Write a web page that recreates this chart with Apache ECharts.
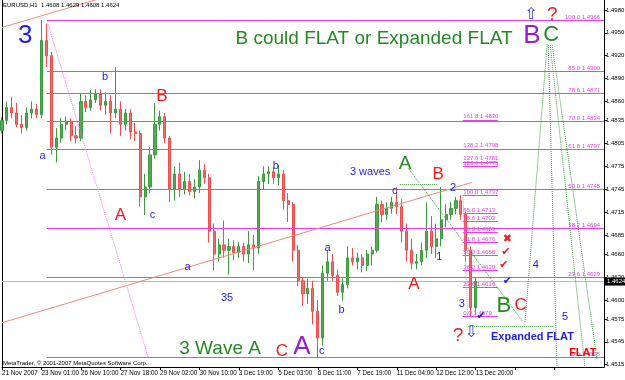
<!DOCTYPE html>
<html><head><meta charset="utf-8">
<script src="https://cdn.jsdelivr.net/npm/echarts@6/dist/echarts.min.js"></script>
<style>html,body{margin:0;padding:0;background:#fff}#c{width:625px;height:380px}</style>
</head><body><div id="c"></div>
<script>
// ---- DATA (4-hour aggregated EURUSD candles) ----
// each row: [open, close, low, high]
const candles = [
[1.4822,1.4835,1.4818,1.4840],[1.4835,1.4852,1.4830,1.4860],[1.4852,1.4845,1.4838,1.4866],[1.4845,1.4830,1.4826,1.4858],
[1.4830,1.4826,1.4818,1.4842],[1.4826,1.4845,1.4822,1.4852],[1.4845,1.4850,1.4838,1.4860],[1.4850,1.4843,1.4838,1.4857],
[1.4843,1.4940,1.4838,1.4967],[1.4940,1.4920,1.4905,1.4962],[1.4920,1.4800,1.4790,1.4925],[1.4800,1.4812,1.4780,1.4825],
[1.4812,1.4830,1.4806,1.4838],[1.4830,1.4834,1.4822,1.4840],[1.4834,1.4815,1.4808,1.4838],[1.4815,1.4812,1.4805,1.4828],
[1.4812,1.4860,1.4808,1.4870],[1.4860,1.4852,1.4846,1.4868],[1.4852,1.4862,1.4848,1.4875],[1.4862,1.4870,1.4858,1.4876],
[1.4870,1.4855,1.4848,1.4876],[1.4855,1.4860,1.4843,1.4872],[1.4860,1.4845,1.4818,1.4868],[1.4845,1.4850,1.4838,1.4905],
[1.4850,1.4830,1.4815,1.4860],[1.4830,1.4845,1.4822,1.4850],[1.4845,1.4820,1.4810,1.4850],[1.4820,1.4818,1.4808,1.4832],
[1.4818,1.4735,1.4722,1.4822],[1.4735,1.4748,1.4711,1.4765],[1.4748,1.4790,1.4740,1.4800],[1.4790,1.4830,1.4785,1.4858],
[1.4830,1.4840,1.4822,1.4848],[1.4840,1.4812,1.4805,1.4845],[1.4812,1.4745,1.4728,1.4815],[1.4745,1.4765,1.4730,1.4775],
[1.4765,1.4745,1.4735,1.4780],[1.4745,1.4755,1.4738,1.4768],[1.4755,1.4742,1.4737,1.4765],[1.4742,1.4748,1.4733,1.4758],
[1.4748,1.4770,1.4740,1.4783],[1.4770,1.4760,1.4752,1.4778],[1.4760,1.4690,1.4675,1.4765],[1.4690,1.4660,1.4639,1.4700],
[1.4660,1.4672,1.4650,1.4680],[1.4672,1.4665,1.4655,1.4704],[1.4665,1.4670,1.4633,1.4680],[1.4670,1.4662,1.4652,1.4678],
[1.4662,1.4670,1.4655,1.4676],[1.4670,1.4660,1.4650,1.4675],[1.4660,1.4672,1.4648,1.4690],[1.4672,1.4668,1.4639,1.4685],
[1.4668,1.4755,1.4660,1.4762],[1.4755,1.4765,1.4745,1.4775],[1.4765,1.4768,1.4752,1.4775],[1.4768,1.4760,1.4752,1.4774],
[1.4760,1.4765,1.4750,1.4777],[1.4765,1.4730,1.4718,1.4770],[1.4730,1.4725,1.4702,1.4740],[1.4725,1.4665,1.4650,1.4728],
[1.4665,1.4625,1.4618,1.4672],[1.4625,1.4608,1.4592,1.4630],[1.4608,1.4615,1.4595,1.4628],[1.4615,1.4585,1.4568,1.4625],
[1.4585,1.4550,1.4525,1.4600],[1.4550,1.4635,1.4540,1.4645],[1.4635,1.4650,1.4625,1.4665],[1.4650,1.4632,1.4625,1.4660],
[1.4632,1.4610,1.4605,1.4640],[1.4610,1.4620,1.4599,1.4628],[1.4620,1.4655,1.4615,1.4670],[1.4655,1.4650,1.4645,1.4668],
[1.4650,1.4655,1.4640,1.4662],[1.4655,1.4645,1.4636,1.4660],[1.4645,1.4660,1.4638,1.4665],[1.4660,1.4665,1.4645,1.4670],
[1.4665,1.4725,1.4662,1.4735],[1.4725,1.4712,1.4702,1.4730],[1.4712,1.4720,1.4705,1.4728],[1.4720,1.4728,1.4713,1.4735],
[1.4728,1.4722,1.4712,1.4748],[1.4722,1.4690,1.4675,1.4732],[1.4690,1.4665,1.4650,1.4700],[1.4665,1.4648,1.4640,1.4680],
[1.4648,1.4650,1.4640,1.4660],[1.4650,1.4665,1.4645,1.4675],[1.4665,1.4690,1.4655,1.4728],[1.4690,1.4670,1.4660,1.4710],
[1.4670,1.4680,1.4655,1.4700],[1.4680,1.4705,1.4670,1.4748],[1.4705,1.4712,1.4695,1.4725],[1.4712,1.4720,1.4705,1.4728],
[1.4720,1.4730,1.4712,1.4735],[1.4730,1.4712,1.4705,1.4737],[1.4712,1.4665,1.4650,1.4715],[1.4665,1.4590,1.4579,1.4670],
[1.4590,1.4624,1.4582,1.4629]
];
const lastQuote = [1.4608, 1.4629, 1.4608, 1.4624]; // O H L C of the H1 bar in the header
const slotCount = 123; // bar slots incl. empty right-hand shift
const timeLabels = ['21 Nov 2007','23 Nov 01:00','26 Nov 10:00','27 Nov 18:00','29 Nov 02:00','30 Nov 10:00',
  '3 Dec 19:00','5 Dec 03:00','6 Dec 11:00','7 Dec 19:00','11 Dec 04:00','12 Dec 12:00','13 Dec 20:00'];
const priceTicks = [1.4980,1.4950,1.4920,1.4890,1.4860,1.4835,1.4805,1.4775,1.4745,1.4715,1.4685,1.4660,1.4630,1.4600,1.4575,1.4545,1.4515];

// Fibonacci set 1 (long lines, labels at right)
const fibMain = [[1.4966,'100.0 1.4966'],[1.4900,'85.0 1.4900'],[1.4871,'78.6 1.4871'],[1.4834,'70.0 1.4834'],
  [1.4797,'61.8 1.4797'],[1.4745,'50.0 1.4745'],[1.4694,'38.2 1.4694'],[1.4629,'23.6 1.4629'],[1.4525,'0.0 1.4525']];
const fibMainSpan = [9.12, 122];
const fibMainLabelAt = 121.2;
const fibMainTrend = [[9.12, 1.4966, 29.6, 1.4525]];
// Fibonacci set 2 (short lines, labels at left)
const fibSecond = [[1.4836,'161.8 1.4836'],[1.4798,'138.2 1.4798'],[1.4781,'127.6 1.4781'],[1.4775,'123.6 1.4775'],
  [1.4737,'100.0 1.4737'],[1.4713,'85.0 1.4713'],[1.4703,'78.6 1.4703'],[1.4689,'70.0 1.4689'],[1.4676,'61.8 1.4676'],
  [1.4658,'50.0 1.4658'],[1.4639,'38.2 1.4639'],[1.4616,'23.6 1.4616'],[1.4579,'0.0 1.4579']];
const fibSecondSpan = [93.4, 100.5];
const fibSecondTrend = [[93.4, 1.4737, 94.4, 1.4579]];
// trend channel (salmon)
const channelLines = [[0, 1.4570, 95.3, 1.4754],[0, 1.4957, 22, 1.4999]];
// projected wave path (green dotted)
const projectionLines = [[82.3,1.4773,105.6,1.4571],[94.4,1.4566,111.7,1.4566],[106.0,1.4571,110.5,1.4937],
  [111.5,1.4934,120.6,1.4521],[111.1,1.4934,118.2,1.4508],[110.7,1.4934,112.5,1.4505],[80.7,1.4751,88.4,1.4751]];

// wave labels [barIndex, price, text]
const blueSmall = [[20.9,1.4892,'b'],[8.2,1.4789,'a'],[30.5,1.4711,'c'],[37.6,1.4643,'a'],[45.6,1.4602,'35'],
  [55.5,1.4776,'b'],[66.0,1.4668,'a'],[68.8,1.4587,'b'],[64.8,1.4533,'c'],[79.6,1.4743,'c'],[74.6,1.4768,'3 waves'],
  [88.6,1.4656,'1'],[91.4,1.4747,'2'],[93.2,1.4595,'3'],[108.2,1.4646,'4'],[114.1,1.4578,'5']];
const blueBig = [[4.7,1.4946,'3']];
const redMid = [[32.4,1.4867,'B'],[24.0,1.4711,'A'],[88.4,1.4765,'B'],[83.5,1.4621,'A'],[105.1,1.4593,'C'],[56.7,1.4532,'C']];
const greenText = [[75.4,1.4942,'B could FLAT or Expanded FLAT'],[44.2,1.4536,'3 Wave A'],[81.7,1.4778,'A']];
const greenBig = [[111.3,1.4947,'C'],[101.7,1.4592,'B']];
const purpleBig = [[107.4,1.4946,'B'],[60.8,1.4538,'A']];
const redQuestion = [[111.5,1.4973,'?'],[92.4,1.4553,'?']];
const blueBoldText = [[107.5,1.4552,'Expanded FLAT']];
const redBoldText = [[117.7,1.4531,'FLAT']];
const redMarks = [[102.4,1.4680,'✖'],[102.1,1.4663,'✔'],[101.7,1.4646,'✔']];
const blueMarks = [[102.4,1.4625,'✔'],[97.1,1.4579,'✔']];
const arrows = [[107.2,1.4974,'⇧'],[95.1,1.4557,'⇩']];

// ---- CHART ----
const FONT = '"Liberation Sans", Arial, sans-serif';
const cats = Array.from({length: slotCount}, (_, i) => String(i));
const lastClose = candles[candles.length - 1][1];

function textSeries(items, style, z) {
  return {
    type: 'scatter', xAxisIndex: 1, yAxisIndex: 0, symbolSize: 0, silent: true, clip: false, z: z || 10,
    itemStyle: { opacity: 1 },
    data: items.map(d => ({ value: [d[0], d[1]], label: { formatter: d[2] } })),
    label: Object.assign({ show: true, position: 'inside', align: 'center', verticalAlign: 'middle', fontFamily: FONT, opacity: 1 }, style)
  };
}
function segSeries(segs, lineStyle, z) {
  return {
    type: 'lines', coordinateSystem: 'cartesian2d', xAxisIndex: 1, yAxisIndex: 0, silent: true, clip: true, z: z || 6,
    lineStyle: Object.assign({ opacity: 1, curveness: 0 }, lineStyle),
    data: segs.map(s => ({ coords: [[s[0], s[1]], [s[2], s[3]]] }))
  };
}

const MAG = '#ea3fea';
const BLUE = '#1f1fe6', RED = '#f01c1c', GREEN = '#238a23', PURPLE = '#9420d0';
const series = [
  { type: 'candlestick', xAxisIndex: 0, yAxisIndex: 0, data: candles, barWidth: 2.6, z: 4,
    itemStyle: { color: '#55aa55', color0: '#f26c6c', borderColor: '#3b9a3b', borderColor0: '#ee4d4d', borderWidth: 1 } },
  segSeries([[0, lastClose, slotCount - 1, lastClose]], { color: '#b9b9b9', width: 1 }, 3),
  segSeries(fibMain.map(f => [fibMainSpan[0], f[0], fibMainSpan[1], f[0]]), { color: MAG, width: 1.2 }),
  segSeries(fibSecond.map(f => [fibSecondSpan[0], f[0], fibSecondSpan[1], f[0]]), { color: MAG, width: 1 }),
  segSeries(fibMainTrend.concat(fibSecondTrend), { color: '#ee77ee', width: 1, type: 'dotted' }),
  segSeries(channelLines, { color: '#f08a78', width: 1 }),
  segSeries(projectionLines, { color: '#3a9a3a', width: 1, type: 'dotted' }),
  textSeries(fibMain.map(f => [fibMainLabelAt, f[0], f[1]]), { color: MAG, fontSize: 6, align: 'right', verticalAlign: 'bottom' }),
  textSeries(fibSecond.map(f => [fibSecondSpan[0] + 0.1, f[0], f[1]]), { color: MAG, fontSize: 6, align: 'left', verticalAlign: 'bottom' }),
  textSeries(blueSmall, { color: BLUE, fontSize: 11 }),
  textSeries(blueBig, { color: BLUE, fontSize: 26 }),
  textSeries(redMid, { color: RED, fontSize: 17 }),
  textSeries(greenText, { color: GREEN, fontSize: 19 }),
  textSeries(greenBig, { color: GREEN, fontSize: 22 }),
  textSeries(purpleBig, { color: PURPLE, fontSize: 26 }),
  textSeries(redQuestion, { color: RED, fontSize: 19 }),
  textSeries(blueBoldText, { color: BLUE, fontSize: 11, fontWeight: 'bold' }),
  textSeries(redBoldText, { color: '#ff0000', fontSize: 11, fontWeight: 'bold' }),
  textSeries(redMarks, { color: RED, fontSize: 11, fontFamily: '"DejaVu Sans", sans-serif' }),
  textSeries(blueMarks, { color: BLUE, fontSize: 11, fontFamily: '"DejaVu Sans", sans-serif' }),
  textSeries(arrows, { color: '#3a3ae6', fontSize: 16, fontFamily: '"DejaVu Sans", sans-serif' }),
  { type: 'scatter', xAxisIndex: 1, yAxisIndex: 0, symbolSize: 0, silent: true, clip: false, z: 12,
    itemStyle: { opacity: 1 },
    data: [[slotCount - 1, lastClose]],
    label: { show: true, position: 'right', distance: 1, formatter: lastClose.toFixed(4), color: '#fff', opacity: 1,
      backgroundColor: '#000', fontSize: 6, fontFamily: FONT, padding: [1, 2, 1, 2] } }
];

const chart = echarts.init(document.getElementById('c'), null, { renderer: 'canvas' });
chart.setOption({
  animation: false,
  backgroundColor: '#fff',
  title: [
    { text: 'EURUSD,H1  ' + lastQuote.map(v => v.toFixed(4)).join(' '), left: 3, top: 2, padding: 0,
      textStyle: { fontSize: 6, fontWeight: 'normal', color: '#000', fontFamily: FONT } },
    { text: 'MetaTrader, © 2001-2007 MetaQuotes Software Corp.', left: 3, top: 360, padding: 0,
      textStyle: { fontSize: 6, fontWeight: 'normal', color: '#000', fontFamily: FONT } }
  ],
  grid: { left: 2, right: 21, top: 0, bottom: 13, containLabel: false, outerBoundsMode: 'none' },
  xAxis: [
    { type: 'category', data: cats, boundaryGap: false, gridIndex: 0,
      axisLine: { show: true, onZero: false, lineStyle: { color: '#000', width: 1 } },
      axisTick: { show: true, interval: 7, length: 3, lineStyle: { color: '#000' } },
      axisLabel: { interval: 7, align: 'left', margin: 3, fontSize: 6.3, color: '#000', fontFamily: FONT,
        showMinLabel: true, showMaxLabel: false, formatter: (v, i) => timeLabels[i / 8] || '' },
      splitLine: { show: false } },
    { type: 'value', min: 0, max: slotCount - 1, show: false, gridIndex: 0 }
  ],
  yAxis: [
    { type: 'value', position: 'right', min: 1.4512, max: 1.4993,
      axisLine: { show: true, onZero: false, lineStyle: { color: '#000' } },
      axisTick: { show: true, customValues: priceTicks, length: 3, lineStyle: { color: '#000' } },
      axisLabel: { customValues: priceTicks, formatter: v => v.toFixed(4), fontSize: 6, margin: 2, color: '#000', fontFamily: FONT },
      splitLine: { show: false } },
    { type: 'value', position: 'left', min: 1.4512, max: 1.4993,
      axisLine: { show: true, onZero: false, lineStyle: { color: '#000' } },
      axisTick: { show: false }, axisLabel: { show: false }, splitLine: { show: false } }
  ],
  series: series
});
</script></body></html>
